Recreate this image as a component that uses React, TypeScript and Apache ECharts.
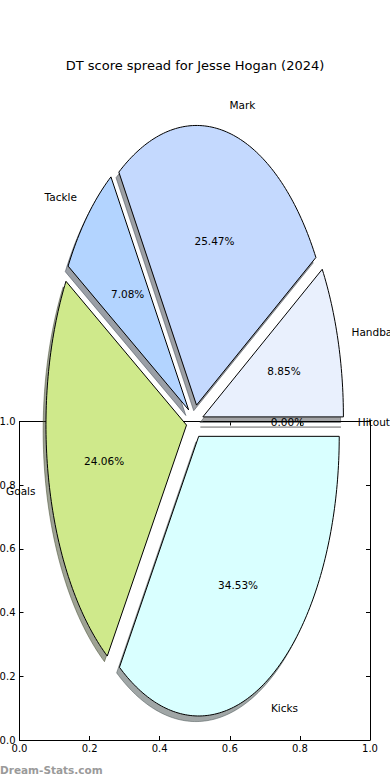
import React, { useEffect, useRef } from 'react';
import * as echarts from 'echarts';

const TITLE = 'DT score spread for Jesse Hogan (2024)';
const WATERMARK = 'Dream-Stats.com';
const categories = ['Handball', 'Mark', 'Tackle', 'Goals', 'Kicks', 'Hitout'];
const values = [8.85, 25.47, 7.08, 24.06, 34.53, 0.0];
const sliceColors = ['#e9f0fd', '#c4d9fe', '#b3d4ff', '#cfe98b', '#d9ffff', '#ffffff'];
const axisMin = 0;
const axisMax = 1;
const axisStep = 0.2;

const EXPLODE = 0.06;
const PIE_CENTER = [0.5, 1.0];
const PIE_RADIUS = [0.401, 0.878];
const FONT = 'DejaVu Sans';
const PIE_FONT_SIZE = 10.5;
const TICK_FONT_SIZE = 10;

function shadowColor(hex: string) {
  const n = parseInt(hex.slice(1), 16);
  const r = Math.round(((n >> 16) & 255) * 0.3);
  const g = Math.round(((n >> 8) & 255) * 0.3);
  const b = Math.round((n & 255) * 0.3);
  return `rgba(${r},${g},${b},0.5)`;
}

export default function App() {
  const ref = useRef<HTMLDivElement>(null);
  useEffect(() => {
    const chart = echarts.init(ref.current as HTMLDivElement, null, { renderer: 'svg' });
    const total = values.reduce((a, b) => a + b, 0);
    const starts: number[] = [];
    let acc = 0;
    values.forEach((v) => {
      starts.push(acc);
      acc += v;
    });

    const renderItem = (params: any, api: any) => {
      const i = params.dataIndex;
      const v = api.value(0);
      const c = api.coord(PIE_CENTER);
      const s = api.size([1, 1]);
      const rx = PIE_RADIUS[0] * s[0];
      const ry = PIE_RADIUS[1] * s[1];
      const a1 = (starts[i] / total) * 2 * Math.PI;
      const a2 = ((starts[i] + v) / total) * 2 * Math.PI;
      const am = (a1 + a2) / 2;
      const ox = c[0] + EXPLODE * rx * Math.cos(am);
      const oy = c[1] - EXPLODE * ry * Math.sin(am);
      const pts: number[][] = [[ox, oy]];
      const n = Math.max(1, Math.ceil((a2 - a1) / (Math.PI / 180)));
      for (let k = 0; k <= n; k++) {
        const a = a1 + ((a2 - a1) * k) / n;
        pts.push([ox + rx * Math.cos(a), oy - ry * Math.sin(a)]);
      }
      if (a2 - a1 === 0) pts.push([ox, oy]);
      const sdx = -0.02 * rx;
      const sdy = 0.02 * ry;
      const shadowPts = pts.map((p) => [p[0] + sdx, p[1] + sdy]);
      const sc = shadowColor(sliceColors[i]);
      const lx = c[0] + (EXPLODE + 1.1) * rx * Math.cos(am);
      const ly = c[1] - (EXPLODE + 1.1) * ry * Math.sin(am);
      const px = c[0] + (EXPLODE + 0.6) * rx * Math.cos(am);
      const py = c[1] - (EXPLODE + 0.6) * ry * Math.sin(am);
      return {
        type: 'group',
        children: [
          {
            type: 'polygon',
            z2: 1,
            shape: { points: shadowPts },
            style: { fill: sc, stroke: sc, lineWidth: 1 },
          },
          {
            type: 'polygon',
            z2: 10,
            shape: { points: pts },
            style: { fill: a2 - a1 === 0 ? 'none' : sliceColors[i], stroke: '#000', lineWidth: 1 },
          },
          {
            type: 'text',
            z2: 20,
            style: {
              text: categories[i],
              x: lx,
              y: ly,
              align: lx > c[0] ? 'left' : 'right',
              verticalAlign: 'middle',
              fill: '#000',
              fontSize: PIE_FONT_SIZE,
              fontFamily: FONT,
            },
          },
          {
            type: 'text',
            z2: 20,
            style: {
              text: v.toFixed(2) + '%',
              x: px,
              y: py,
              align: 'center',
              verticalAlign: 'middle',
              fill: '#000',
              fontSize: PIE_FONT_SIZE,
              fontFamily: FONT,
            },
          },
        ],
      };
    };

    const labelStyle = { color: '#000', fontFamily: FONT, fontSize: TICK_FONT_SIZE };
    const lineStyle = { color: '#000', width: 1 };
    const mkX = (position: string, showLabel: boolean) => ({
      type: 'value',
      min: axisMin,
      max: axisMax,
      interval: axisStep,
      position,
      axisLine: { show: true, onZero: false, lineStyle },
      axisTick: { show: true, inside: true, length: 4, lineStyle },
      axisLabel: { show: showLabel, formatter: (x: number) => x.toFixed(1), margin: 3, ...labelStyle },
      splitLine: { show: false },
    });
    const mkY = (position: string, showLabel: boolean) => ({
      type: 'value',
      min: axisMin,
      max: axisMax,
      interval: axisStep,
      position,
      axisLine: { show: true, onZero: false, lineStyle },
      axisTick: { show: true, inside: true, length: 4, lineStyle },
      axisLabel: { show: showLabel, formatter: (x: number) => x.toFixed(1), margin: 4, ...labelStyle },
      splitLine: { show: false },
    });

    chart.setOption({
      animation: false,
      backgroundColor: '#fff',
      title: {
        text: TITLE,
        left: 'center',
        top: 54,
        textStyle: { fontFamily: FONT, fontSize: 13, fontWeight: 'normal', color: '#000' },
      },
      grid: {
        left: 19.5,
        top: 421.5,
        width: 350.5,
        height: 318.5,
        containLabel: false,
        outerBoundsMode: 'none',
      },
      xAxis: [mkX('bottom', true), mkX('top', false)],
      yAxis: [mkY('left', true), mkY('right', false)],
      graphic: [
        {
          type: 'text',
          left: 0,
          top: 764,
          style: { text: WATERMARK, fill: '#9a9a9a', font: `bold 10.5px "${FONT}"` },
        },
      ],
      series: [
        {
          type: 'custom',
          coordinateSystem: 'cartesian2d',
          xAxisIndex: 0,
          yAxisIndex: 0,
          clip: false,
          z: 5,
          data: values.map((v, i) => [v, i]),
          renderItem,
        },
      ],
    });
    return () => chart.dispose();
  }, []);
  return <div ref={ref} style={{ position: 'fixed', left: 0, top: 0, width: 390, height: 780 }} />;
}
